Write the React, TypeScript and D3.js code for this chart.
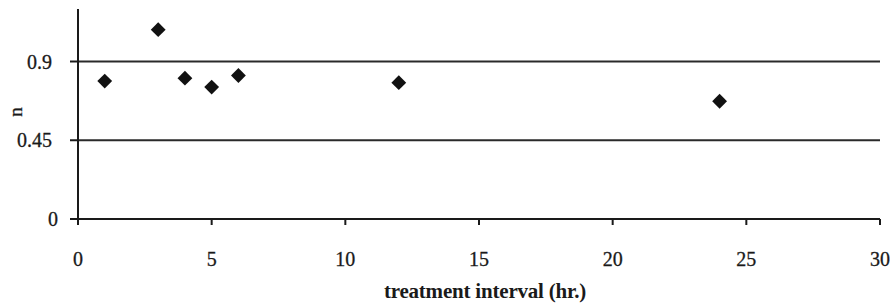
import React from "react";
import * as d3 from "d3";

const intervals = [1, 3, 4, 5, 6, 12, 24];
const nValues = [0.788, 1.082, 0.805, 0.754, 0.82, 0.779, 0.673];
const xTicks = [0, 5, 10, 15, 20, 25, 30];
const yTicks = [0, 0.45, 0.9];
const gridValues = [0.45, 0.9];

const W = 896;
const H = 306;

export default function App() {
  const x = d3.scaleLinear().domain([0, 30]).range([78, 880]);
  const y = d3.scaleLinear().domain([0, 1.2]).range([219, 9]);
  const font = "'Liberation Serif', 'Times New Roman', serif";
  const ink = "#1a1a1a";
  const diamond = d3.symbol().type(d3.symbolDiamond2 ?? d3.symbolDiamond).size(140);
  return (
    <svg width={W} height={H} style={{ position: "absolute", left: 0, top: 0, background: "#fff" }}>
      <rect width={W} height={H} fill="#fff" />
      {gridValues.map((v) => (
        <line key={v} x1={x(0)} x2={x(30)} y1={y(v)} y2={y(v)} stroke="#2a2a2a" strokeWidth={2} />
      ))}
      <line x1={x(0)} x2={x(30)} y1={y(0)} y2={y(0)} stroke={ink} strokeWidth={2} />
      <line x1={x(0)} x2={x(0)} y1={y(0) + 6} y2={y(1.2)} stroke={ink} strokeWidth={2} />
      {yTicks.map((v) => (
        <g key={v}>
          <line x1={x(0) - 8} x2={x(0)} y1={y(v)} y2={y(v)} stroke={ink} strokeWidth={2} />
          <text x={v === 0 ? 58 : 52} y={y(v)} dy="0.35em" textAnchor="end" fontFamily={font} fontSize={20} fill={ink} stroke={ink} strokeWidth={0.3}>
            {v === 0 ? "0" : String(v)}
          </text>
        </g>
      ))}
      {xTicks.map((v) => (
        <g key={v}>
          <line x1={x(v)} x2={x(v)} y1={y(0)} y2={y(0) + 6} stroke={ink} strokeWidth={2} />
          <text x={x(v)} y={266} textAnchor="middle" fontFamily={font} fontSize={20} fill={ink} stroke={ink} strokeWidth={0.3}>
            {v}
          </text>
        </g>
      ))}
      <text x={485} y={298} textAnchor="middle" fontFamily={font} fontSize={21} fontWeight="bold" letterSpacing={-0.2} fill={ink}>
        treatment interval (hr.)
      </text>
      <text transform={`translate(22,112) rotate(-90)`} textAnchor="middle" fontFamily={font} fontSize={19} fill={ink} stroke={ink} strokeWidth={0.3}>
        n
      </text>
      {intervals.map((t, i) => (
        <path key={t} d={diamond() as string} transform={`translate(${x(t)},${y(nValues[i])})`} fill="#111" />
      ))}
    </svg>
  );
}
